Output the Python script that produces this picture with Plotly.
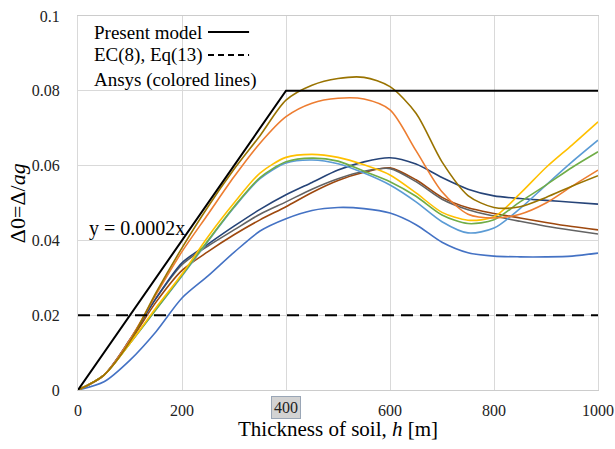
import plotly.graph_objects as go

h = [0, 50, 100, 150, 200, 250, 300, 350, 400, 450, 500, 550, 600, 650, 700, 750, 800, 850, 900, 950, 1000]

olive = [0, 0.004, 0.013, 0.026, 0.038, 0.049, 0.059, 0.068, 0.0775, 0.0815, 0.0833, 0.0836, 0.0811, 0.074, 0.061, 0.052, 0.0488, 0.049, 0.0515, 0.0545, 0.0573]
orange = [0, 0.004, 0.0135, 0.0255, 0.037, 0.047, 0.057, 0.066, 0.0731, 0.0767, 0.078, 0.0778, 0.0749, 0.064, 0.053, 0.047, 0.046, 0.047, 0.050, 0.0545, 0.0588]
yellow = [0, 0.004, 0.0125, 0.022, 0.031, 0.041, 0.050, 0.058, 0.0622, 0.063, 0.0622, 0.0602, 0.0575, 0.0527, 0.0475, 0.0454, 0.0463, 0.0525, 0.0595, 0.0655, 0.0717]
green = [0, 0.004, 0.0125, 0.0215, 0.0307, 0.040, 0.049, 0.0568, 0.061, 0.062, 0.0612, 0.0585, 0.0557, 0.0518, 0.0468, 0.0445, 0.0455, 0.0503, 0.0548, 0.0595, 0.0637]
lightblue = [0, 0.004, 0.0125, 0.0215, 0.0305, 0.0398, 0.0488, 0.0565, 0.0607, 0.0615, 0.0605, 0.058, 0.0548, 0.0503, 0.045, 0.042, 0.0433, 0.0485, 0.0548, 0.061, 0.0668]
darkblue = [0, 0.004, 0.0135, 0.0245, 0.034, 0.039, 0.0438, 0.0483, 0.0522, 0.0555, 0.0588, 0.061, 0.0621, 0.0604, 0.0568, 0.0537, 0.0519, 0.0512, 0.0507, 0.0502, 0.0497]
gray = [0, 0.004, 0.0135, 0.0245, 0.0335, 0.0385, 0.0428, 0.047, 0.0503, 0.0537, 0.0565, 0.0585, 0.0592, 0.0557, 0.051, 0.0482, 0.0465, 0.0451, 0.0438, 0.0427, 0.0417]
brown = [0, 0.004, 0.013, 0.0235, 0.032, 0.037, 0.0415, 0.0455, 0.049, 0.0528, 0.056, 0.0582, 0.0594, 0.0562, 0.0515, 0.0487, 0.0472, 0.046, 0.0448, 0.0437, 0.0428]
blue = [0, 0.0022, 0.008, 0.0156, 0.0246, 0.0305, 0.0368, 0.0425, 0.0458, 0.048, 0.0488, 0.0485, 0.0473, 0.0442, 0.0395, 0.0367, 0.0358, 0.0356, 0.0356, 0.0358, 0.0366]

model_h = [0, 400, 1000]
model_v = [0, 0.08, 0.08]
ec8_h = [0, 1000]
ec8_v = [0.02, 0.02]

x_ticks = [0, 200, 400, 600, 800, 1000]
x_ticktext = ["0", "200", "", "600", "800", "1000"]

series = [
    (blue, "#4472C4"),
    (brown, "#9E480E"),
    (gray, "#636363"),
    (darkblue, "#264478"),
    (lightblue, "#5B9BD5"),
    (green, "#70AD47"),
    (yellow, "#FFC000"),
    (orange, "#ED7D31"),
    (olive, "#997300"),
]

SERIF = "Liberation Serif"

fig = go.Figure()
for vals, col in series:
    fig.add_trace(go.Scatter(x=h, y=vals, mode="lines",
                             line=dict(color=col, width=1.6, shape="spline", smoothing=0.8),
                             showlegend=False, hoverinfo="skip"))

fig.add_trace(go.Scatter(x=ec8_h, y=ec8_v, mode="lines",
                         line=dict(color="black", width=2, dash="12px,7px"),
                         showlegend=False, hoverinfo="skip"))
fig.add_trace(go.Scatter(x=model_h, y=model_v, mode="lines",
                         line=dict(color="black", width=2),
                         showlegend=False, hoverinfo="skip"))

# legend (text with line samples on the right)
leg = [("Present model", 0.957, "solid"), ("EC(8), Eq(13)", 0.896, "dash"), ("Ansys (colored lines)", 0.829, None)]
for txt, yy, sty in leg:
    fig.add_annotation(xref="paper", yref="paper", x=0.027, y=yy, text=txt, showarrow=False,
                       xanchor="left", yanchor="middle", font=dict(family=SERIF, size=19, color="black"))
    if sty:
        fig.add_shape(type="line", xref="paper", yref="paper", x0=0.25, x1=0.329, y0=yy, y1=yy,
                      line=dict(color="black", width=2, dash=sty if sty == "solid" else "6px,4px"))

fig.add_annotation(x=17, y=0.0432, text="y = 0.0002x", showarrow=False, xanchor="left", yanchor="middle",
                   font=dict(family=SERIF, size=20, color="black"))

# highlighted 400 tick label
fig.add_annotation(x=400, y=0, yref="y", text="400", showarrow=False, yanchor="top", yshift=-6,
                   bgcolor="#d3d3d3", bordercolor="#9aa6b6", borderwidth=1, borderpad=2,
                   font=dict(family=SERIF, size=16, color="#222"))

# axis titles
fig.add_annotation(xref="paper", yref="paper", x=0.5, y=-0.104, text="Thickness of soil, <i>h</i> [m]",
                   showarrow=False, xanchor="center", yanchor="middle",
                   font=dict(family=SERIF, size=21, color="black"))
fig.add_annotation(xref="paper", yref="paper", x=-0.117, y=0.5, text="Δ0=Δ/<i>ag</i>", textangle=-90,
                   showarrow=False, xanchor="center", yanchor="middle",
                   font=dict(family=SERIF, size=22, color="black"))

fig.update_layout(
    width=615, height=449,
    margin=dict(l=78, r=17, t=16, b=59),
    paper_bgcolor="white", plot_bgcolor="white",
    font=dict(family=SERIF, size=16, color="#222"),
    hovermode=False,
    xaxis=dict(range=[0, 1000], tickvals=x_ticks, ticktext=x_ticktext, automargin=False,
               showgrid=True, gridcolor="#d9d9d9", gridwidth=1,
               showline=True, linecolor="#cccccc", mirror=True, zeroline=False,
               ticks="", ticklabelstandoff=6, ticklabeloverflow="allow"),
    yaxis=dict(range=[0, 0.1], tickmode="linear", tick0=0, dtick=0.02, automargin=False,
               showgrid=True, gridcolor="#d9d9d9", gridwidth=1,
               showline=True, linecolor="#d9d9d9", mirror=True, zeroline=False,
               ticks="", ticklabelstandoff=14, ticklabeloverflow="allow"),
)

# remove the default page margin so the 615x449 figure fills the window exactly
fig.write_html("out.html", config={"displayModeBar": False},
               post_script="document.body.style.margin='0';")
